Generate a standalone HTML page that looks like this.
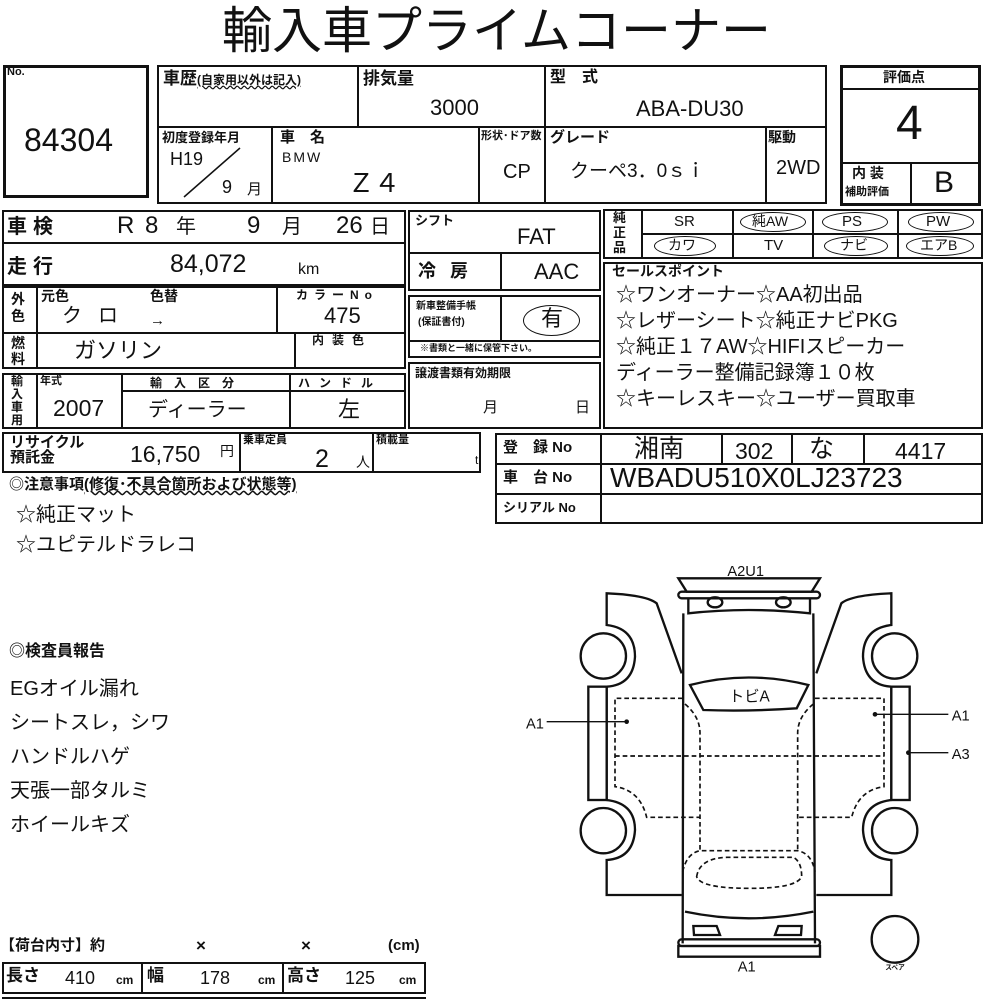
<!DOCTYPE html>
<html><head><meta charset="utf-8">
<style>
body{margin:0;background:#fff;}
#p{position:relative;width:1000px;height:1000px;overflow:hidden;background:#fff;font-family:"Liberation Sans","Noto Sans CJK JP",sans-serif;color:#111;}
.b{position:absolute;border:2px solid #111;box-sizing:border-box;}
.h{position:absolute;height:2px;background:#111;}
.v{position:absolute;width:2px;background:#111;}
.t{position:absolute;line-height:1;white-space:nowrap;}
.k{font-weight:bold;}
.el{position:absolute;border:1.5px solid #111;border-radius:50%;box-sizing:border-box;}
</style></head><body><div id="p">

<div class="t" style="left:222px;top:6px;font-size:50px;letter-spacing:0px;">輸入車プライムコーナー</div>

<!-- No box -->
<div class="b" style="left:3px;top:65px;width:146px;height:133px;border-width:3px;"></div>
<div class="t k" style="left:7px;top:67px;font-size:11px;">No.</div>
<div class="t" style="left:24px;top:124px;font-size:32px;">84304</div>

<!-- middle top box -->
<div class="b" style="left:157px;top:65px;width:670px;height:139px;"></div>
<div class="h" style="left:157px;top:126px;width:670px;"></div>
<div class="v" style="left:357px;top:65px;height:62px;"></div>
<div class="v" style="left:544px;top:65px;height:139px;"></div>
<div class="v" style="left:271px;top:126px;height:78px;"></div>
<div class="v" style="left:478px;top:126px;height:78px;"></div>
<div class="v" style="left:765px;top:126px;height:78px;"></div>
<div class="t k" style="left:163px;top:70px;font-size:17px;">車歴<span style="font-size:12px;text-decoration:underline wavy;">(自家用以外は記入)</span></div>
<div class="t k" style="left:363px;top:70px;font-size:17px;">排気量</div>
<div class="t" style="left:430px;top:97px;font-size:22px;">3000</div>
<div class="t k" style="left:550px;top:70px;font-size:16px;">型　式</div>
<div class="t" style="left:636px;top:98px;font-size:22px;">ABA-DU30</div>
<div class="t k" style="left:162px;top:131px;font-size:13px;">初度登録年月</div>
<div class="t" style="left:170px;top:150px;font-size:18px;">H19</div>
<div class="t" style="left:222px;top:178px;font-size:18px;">9</div>
<div class="t" style="left:247px;top:182px;font-size:15px;">月</div>
<svg style="position:absolute;left:0;top:0" width="1000" height="1000"><line x1="184" y1="197" x2="240" y2="148" stroke="#111" stroke-width="1.5"/></svg>
<div class="t k" style="left:280px;top:130px;font-size:15px;">車　名</div>
<div class="t" style="left:282px;top:150px;font-size:14px;letter-spacing:2px;">BMW</div>
<div class="t" style="left:348px;top:170px;font-size:26px;">Ｚ４</div>
<div class="t k" style="left:481px;top:131px;font-size:11px;">形状･ドア数</div>
<div class="t" style="left:503px;top:162px;font-size:20px;">CP</div>
<div class="t k" style="left:550px;top:130px;font-size:15px;">グレード</div>
<div class="t" style="left:570px;top:162px;font-size:19px;">クーペ3．0ｓｉ</div>
<div class="t k" style="left:768px;top:130px;font-size:14px;">駆動</div>
<div class="t" style="left:776px;top:158px;font-size:20px;">2WD</div>

<!-- rating box -->
<div class="b" style="left:840px;top:65px;width:141px;height:141px;border-width:3px;"></div>
<div class="h" style="left:840px;top:88px;width:141px;"></div>
<div class="h" style="left:840px;top:162px;width:141px;"></div>
<div class="v" style="left:910px;top:162px;height:44px;"></div>
<div class="t k" style="left:883px;top:70px;font-size:14px;">評価点</div>
<div class="t" style="left:896px;top:100px;font-size:48px;">4</div>
<div class="t k" style="left:852px;top:166px;font-size:14px;">内 装</div>
<div class="t k" style="left:845px;top:187px;font-size:11px;">補助評価</div>
<div class="t" style="left:934px;top:168px;font-size:30px;">B</div>

<!-- left block row2 -->
<div class="b" style="left:2px;top:210px;width:404px;height:76px;"></div>
<div class="h" style="left:2px;top:242px;width:404px;"></div>
<div class="t k" style="left:7px;top:217px;font-size:20px;letter-spacing:6px;">車検</div>
<div class="t" style="left:117px;top:214px;font-size:24px;">R</div>
<div class="t" style="left:145px;top:214px;font-size:24px;">8</div>
<div class="t" style="left:176px;top:217px;font-size:20px;">年</div>
<div class="t" style="left:247px;top:214px;font-size:24px;">9</div>
<div class="t" style="left:282px;top:217px;font-size:20px;">月</div>
<div class="t" style="left:336px;top:214px;font-size:24px;">26</div>
<div class="t" style="left:370px;top:217px;font-size:20px;">日</div>
<div class="t k" style="left:7px;top:257px;font-size:20px;letter-spacing:6px;">走行</div>
<div class="t" style="left:170px;top:252px;font-size:25px;">84,072</div>
<div class="t" style="left:298px;top:262px;font-size:16px;">km</div>

<div class="b" style="left:2px;top:286px;width:404px;height:83px;"></div>
<div class="h" style="left:2px;top:332px;width:404px;"></div>
<div class="v" style="left:36px;top:286px;height:83px;"></div>
<div class="v" style="left:276px;top:286px;height:47px;"></div>
<div class="v" style="left:294px;top:332px;height:37px;"></div>
<div class="t k" style="left:11px;top:291px;font-size:14px;line-height:17px;white-space:normal;width:16px;">外色</div>
<div class="t k" style="left:11px;top:335px;font-size:14px;line-height:16px;white-space:normal;width:16px;">燃料</div>
<div class="t k" style="left:41px;top:289px;font-size:14px;">元色</div>
<div class="t k" style="left:150px;top:289px;font-size:14px;">色替</div>
<div class="t" style="left:62px;top:306px;font-size:20px;letter-spacing:16px;">クロ</div>
<div class="t" style="left:150px;top:313px;font-size:15px;">→</div>
<div class="t k" style="left:296px;top:289px;font-size:12px;letter-spacing:6px;">カラーNo</div>
<div class="t" style="left:324px;top:305px;font-size:22px;">475</div>
<div class="t" style="left:74px;top:340px;font-size:22px;">ガソリン</div>
<div class="t k" style="left:312px;top:334px;font-size:12px;letter-spacing:8px;">内装色</div>

<div class="b" style="left:2px;top:373px;width:404px;height:56px;"></div>
<div class="v" style="left:36px;top:373px;height:56px;"></div>
<div class="v" style="left:121px;top:373px;height:56px;"></div>
<div class="v" style="left:289px;top:373px;height:56px;"></div>
<div class="h" style="left:121px;top:390px;width:285px;"></div>
<div class="t k" style="left:11px;top:375px;font-size:12px;line-height:13px;white-space:normal;width:13px;">輸入車用</div>
<div class="t k" style="left:40px;top:376px;font-size:11px;">年式</div>
<div class="t" style="left:53px;top:397px;font-size:23px;">2007</div>
<div class="t k" style="left:150px;top:377px;font-size:12px;letter-spacing:12px;">輸入区分</div>
<div class="t k" style="left:298px;top:377px;font-size:12px;letter-spacing:9px;">ハンドル</div>
<div class="t" style="left:148px;top:400px;font-size:20px;">ディーラー</div>
<div class="t" style="left:338px;top:399px;font-size:22px;">左</div>

<div class="b" style="left:2px;top:432px;width:479px;height:41px;"></div>
<div class="v" style="left:239px;top:432px;height:41px;"></div>
<div class="v" style="left:372px;top:432px;height:41px;"></div>
<div class="t k" style="left:10px;top:435px;font-size:15px;line-height:15px;">リサイクル<br>預託金</div>
<div class="t" style="left:130px;top:443px;font-size:23px;">16,750</div>
<div class="t" style="left:220px;top:444px;font-size:14px;">円</div>
<div class="t k" style="left:243px;top:435px;font-size:11px;">乗車定員</div>
<div class="t" style="left:315px;top:447px;font-size:25px;">2</div>
<div class="t" style="left:356px;top:455px;font-size:14px;">人</div>
<div class="t k" style="left:376px;top:435px;font-size:11px;">積載量</div>
<div class="t" style="left:475px;top:454px;font-size:12px;">t</div>

<!-- right mid -->
<div class="b" style="left:408px;top:210px;width:193px;height:81px;"></div>
<div class="h" style="left:408px;top:252px;width:193px;"></div>
<div class="v" style="left:500px;top:252px;height:39px;"></div>
<div class="t k" style="left:415px;top:214px;font-size:13px;">シフト</div>
<div class="t" style="left:517px;top:226px;font-size:22px;">FAT</div>
<div class="t k" style="left:418px;top:262px;font-size:18px;letter-spacing:14px;">冷房</div>
<div class="t" style="left:534px;top:261px;font-size:22px;">AAC</div>

<div class="b" style="left:408px;top:295px;width:193px;height:63px;"></div>
<div class="h" style="left:408px;top:340px;width:193px;"></div>
<div class="v" style="left:500px;top:295px;height:46px;"></div>
<div class="t k" style="left:416px;top:302px;font-size:10px;">新車整備手帳</div>
<div class="t k" style="left:418px;top:318px;font-size:10px;">(保証書付)</div>
<div class="el" style="left:523px;top:305px;width:57px;height:31px;"></div>
<div class="t" style="left:541px;top:308px;font-size:22px;">有</div>
<div class="t k" style="left:420px;top:344px;font-size:9px;">※書類と一緒に保管下さい。</div>

<div class="b" style="left:408px;top:362px;width:193px;height:67px;"></div>
<div class="t k" style="left:415px;top:367px;font-size:12px;">譲渡書類有効期限</div>
<div class="t" style="left:483px;top:400px;font-size:15px;">月</div>
<div class="t" style="left:575px;top:400px;font-size:15px;">日</div>

<div class="b" style="left:603px;top:209px;width:380px;height:50px;"></div>
<div class="h" style="left:642px;top:233px;width:341px;"></div>
<div class="v" style="left:641px;top:209px;height:50px;"></div>
<div class="v" style="left:732px;top:209px;height:50px;"></div>
<div class="v" style="left:812px;top:209px;height:50px;"></div>
<div class="v" style="left:897px;top:209px;height:50px;"></div>
<div class="t k" style="left:613px;top:210px;font-size:13px;line-height:15px;white-space:normal;width:14px;">純正品</div>
<div class="t" style="left:674px;top:214px;font-size:15px;">SR</div>
<div class="t" style="left:752px;top:214px;font-size:14px;">純AW</div>
<div class="el" style="left:740px;top:212px;width:66px;height:20px;"></div>
<div class="t" style="left:842px;top:214px;font-size:15px;">PS</div>
<div class="el" style="left:822px;top:212px;width:66px;height:20px;"></div>
<div class="t" style="left:926px;top:214px;font-size:15px;">PW</div>
<div class="el" style="left:908px;top:212px;width:66px;height:20px;"></div>
<div class="t" style="left:668px;top:238px;font-size:14px;">カワ</div>
<div class="el" style="left:654px;top:236px;width:62px;height:20px;"></div>
<div class="t" style="left:764px;top:238px;font-size:15px;">TV</div>
<div class="t" style="left:840px;top:238px;font-size:14px;">ナビ</div>
<div class="el" style="left:824px;top:236px;width:64px;height:20px;"></div>
<div class="t" style="left:920px;top:238px;font-size:14px;">エアB</div>
<div class="el" style="left:906px;top:236px;width:68px;height:20px;"></div>

<div class="b" style="left:603px;top:262px;width:380px;height:167px;"></div>
<div class="t k" style="left:612px;top:264px;font-size:14px;">セールスポイント</div>
<div class="t" style="left:616px;top:285px;font-size:20px;">☆ワンオーナー☆AA初出品</div>
<div class="t" style="left:616px;top:311px;font-size:20px;">☆レザーシート☆純正ナビPKG</div>
<div class="t" style="left:616px;top:337px;font-size:20px;">☆純正１７AW☆HIFIスピーカー</div>
<div class="t" style="left:616px;top:363px;font-size:20px;">ディーラー整備記録簿１０枚</div>
<div class="t" style="left:616px;top:389px;font-size:20px;">☆キーレスキー☆ユーザー買取車</div>

<div class="b" style="left:495px;top:433px;width:488px;height:91px;"></div>
<div class="h" style="left:495px;top:463px;width:488px;"></div>
<div class="h" style="left:495px;top:493px;width:488px;"></div>
<div class="v" style="left:600px;top:433px;height:91px;"></div>
<div class="v" style="left:721px;top:433px;height:31px;"></div>
<div class="v" style="left:791px;top:433px;height:31px;"></div>
<div class="v" style="left:863px;top:433px;height:31px;"></div>
<div class="t k" style="left:503px;top:440px;font-size:15px;">登　録 No</div>
<div class="t k" style="left:503px;top:470px;font-size:15px;">車　台 No</div>
<div class="t k" style="left:503px;top:501px;font-size:13px;">シリアル No</div>
<div class="t" style="left:634px;top:437px;font-size:25px;">湘南</div>
<div class="t" style="left:735px;top:440px;font-size:23px;">302</div>
<div class="t" style="left:809px;top:437px;font-size:25px;">な</div>
<div class="t" style="left:895px;top:440px;font-size:23px;">4417</div>
<div class="t" style="left:610px;top:464px;font-size:28px;">WBADU510X0LJ23723</div>

<!-- left texts -->
<div class="t k" style="left:9px;top:477px;font-size:15px;">◎注意事項<span style="text-decoration:underline wavy;">(修復･不具合箇所および状態等)</span></div>
<div class="t" style="left:16px;top:505px;font-size:20px;">☆純正マット</div>
<div class="t" style="left:16px;top:535px;font-size:20px;">☆ユピテルドラレコ</div>
<div class="t k" style="left:9px;top:644px;font-size:16px;">◎検査員報告</div>
<div class="t" style="left:10px;top:679px;font-size:20px;">EGオイル漏れ</div>
<div class="t" style="left:10px;top:713px;font-size:20px;">シートスレ，シワ</div>
<div class="t" style="left:10px;top:747px;font-size:20px;">ハンドルハゲ</div>
<div class="t" style="left:10px;top:781px;font-size:20px;">天張一部タルミ</div>
<div class="t" style="left:10px;top:815px;font-size:20px;">ホイールキズ</div>

<div class="t k" style="left:0px;top:938px;font-size:15px;">【荷台内寸】約</div>
<div class="t k" style="left:196px;top:937px;font-size:17px;">×</div>
<div class="t k" style="left:301px;top:937px;font-size:17px;">×</div>
<div class="t k" style="left:388px;top:938px;font-size:15px;">(cm)</div>
<div class="b" style="left:2px;top:962px;width:424px;height:32px;"></div>
<div class="v" style="left:141px;top:962px;height:32px;"></div>
<div class="v" style="left:282px;top:962px;height:32px;"></div>
<div class="h" style="left:2px;top:997px;width:424px;"></div>
<div class="t k" style="left:6px;top:967px;font-size:17px;">長さ</div>
<div class="t" style="left:65px;top:969px;font-size:18px;">410</div>
<div class="t k" style="left:116px;top:974px;font-size:12px;">cm</div>
<div class="t k" style="left:147px;top:967px;font-size:17px;">幅</div>
<div class="t" style="left:200px;top:969px;font-size:18px;">178</div>
<div class="t k" style="left:258px;top:974px;font-size:12px;">cm</div>
<div class="t k" style="left:287px;top:967px;font-size:17px;">高さ</div>
<div class="t" style="left:345px;top:969px;font-size:18px;">125</div>
<div class="t k" style="left:399px;top:974px;font-size:12px;">cm</div>

<!-- car diagram -->
<svg style="position:absolute;left:500px;top:560px" width="500" height="440" viewBox="0 0 1500 1320">
<g fill="none" stroke="#111" stroke-width="7">
<path d="M535,55 L960,55 L935,95 L560,95 Z"/>
<rect x="535" y="95" width="425" height="20" rx="10"/>
<path d="M565,115 L565,160 Q745,140 930,160 L930,115"/>
<ellipse cx="645" cy="127" rx="22" ry="15"/>
<ellipse cx="850" cy="127" rx="22" ry="15"/>
<path d="M550,160 L548,1150 M940,160 L945,1150"/>
<path d="M555,1055 Q745,1095 940,1055"/>
<path d="M580,1098 L650,1098 L660,1125 L582,1125 Z"/>
<path d="M835,1098 L905,1098 L903,1125 L825,1125 Z"/>
<rect x="535" y="1138" width="425" height="20" rx="10"/>
<path d="M535,1158 L960,1158 L960,1190 L535,1190 Z"/>
<path d="M570,375 Q745,330 925,375 L890,445 Q745,455 610,450 Z"/>
<g id="side">
<path d="M545,340 L470,130 Q440,105 320,100 L320,195 Q405,205 405,290 Q400,375 320,380 L320,720 Q405,730 405,810 Q400,895 320,900 L320,1005 L545,1005"/>
<rect x="265" y="380" width="55" height="340"/>
<circle cx="310" cy="288" r="68"/>
<circle cx="310" cy="812" r="68"/>
</g>
<use href="#side" transform="translate(1494,0) scale(-1,1)"/>
<circle cx="1185" cy="1138" r="70"/>
</g>
<g fill="none" stroke="#111" stroke-width="5" stroke-dasharray="14,9">
<path d="M548,415 L345,415 L345,680 Q420,690 440,772 L600,772"/>
<path d="M945,415 L1152,415 L1152,680 Q1075,690 1055,772 L895,772"/>
<path d="M345,588 L1152,588"/>
<path d="M555,432 Q600,470 600,520 L600,872 M940,432 Q893,470 893,520 L893,872"/>
<path d="M548,935 Q560,880 600,872 L893,872 Q935,880 945,935"/>
<path d="M590,950 Q598,895 680,892 L880,892 Q905,905 905,950 Q890,985 750,985 Q600,985 590,950 Z"/>
</g>
<g stroke="#111" stroke-width="4">
<line x1="140" y1="485" x2="380" y2="485"/><circle cx="380" cy="485" r="5" fill="#111"/>
<line x1="1125" y1="463" x2="1345" y2="463"/><circle cx="1125" cy="463" r="5" fill="#111"/>
<line x1="1225" y1="578" x2="1345" y2="578"/><circle cx="1225" cy="578" r="5" fill="#111"/>
</g>
<g font-family="Liberation Sans, Noto Sans CJK JP, sans-serif" font-size="44" fill="#111" text-anchor="middle">
<text x="737" y="48">A2U1</text>
<text x="105" y="505">A1</text>
<text x="1382" y="482">A1</text>
<text x="1382" y="597">A3</text>
<text x="740" y="1235">A1</text>
<text x="748" y="425" font-size="46">トビA</text>
<text x="1185" y="1228" font-size="20" font-weight="bold">スペア</text>
</g>
</svg>

</div></body></html>
